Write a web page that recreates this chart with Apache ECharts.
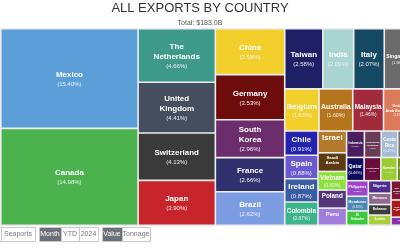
<!DOCTYPE html>
<html>
<head>
<meta charset="utf-8">
<script src="https://cdn.jsdelivr.net/npm/echarts@6/dist/echarts.min.js"></script>
<style>
  html, body { margin: 0; padding: 0; background: #fff; }
  #chart { width: 400px; height: 250px; overflow: hidden; }
</style>
</head>
<body>
<div id="chart"></div>
<script>
const titleText = 'ALL EXPORTS BY COUNTRY';
const subtitleText = 'Total: $183.0B';

const countries = [
  'Mexico', 'Canada', 'The Netherlands', 'United Kingdom', 'Switzerland', 'Japan',
  'China', 'Germany', 'South Korea', 'France', 'Brazil', 'Taiwan', 'India', 'Italy',
  'Singapore', 'Belgium', 'Australia', 'Malaysia', 'United Arab Emirates',
  'Chile', 'Spain', 'Colombia', 'Ireland', 'Israel', 'Vietnam', 'Saudi Arabia',
  'Poland', 'Peru', 'Indonesia', 'Dominican Republic', 'Costa Rica', 'Qatar',
  'Panama', 'Guatemala', 'Sweden', 'Argentina', 'Philippines', 'Honduras',
  'El Salvador', 'Nigeria', 'Morocco', 'Bahamas', 'Austria', 'New Zealand',
  'Finland', 'Trinidad and Tobago', 'Denmark', 'Pakistan'
];

// share of total exports, percent
const shares = [
  15.40, 14.98, 4.66, 4.41, 4.13, 3.90,
  3.58, 3.53, 2.96, 2.66, 2.62, 2.58, 2.09, 2.07,
  1.96, 1.63, 1.60, 1.46, 1.41,
  0.91, 0.88, 0.87, 0.87, 0.70, 0.60, 0.60,
  0.58, 0.55, 0.53, 0.50, 0.49, 0.46,
  0.46, 0.44, 0.43, 0.42, 0.38, 0.36,
  0.35, 0.32, 0.29, 0.27, 0.26, 0.25,
  0.23, 0.22, 0.21, 0.20
];

const colors = [
  '#5b9dd6', '#4cb24e', '#3d9a8b', '#454e5e', '#3a3a3a', '#c8242b',
  '#f2cf2b', '#6e0b0b', '#6b2d6b', '#30306e', '#7d9de3', '#1f1f66', '#a8d4d2', '#154862',
  '#6b6b6b', '#f2cf2b', '#b5751c', '#a12a3c', '#dc7a5c',
  '#2323b0', '#6a5ad0', '#3cb48c', '#3a5ca4', '#b27a2a', '#8ce23a', '#5c3b12',
  '#55357a', '#a07cdc', '#4b1f5e', '#6a3c5a', '#a5bcd4', '#0d0d5e',
  '#6f6f6f', '#6a0c3c', '#9acd32', '#6f8f22', '#9b45c8', '#4a87b6',
  '#3ec83e', '#4d2e8c', '#8e6a8e', '#3c3c3c', '#a6cf3a', '#7a1636',
  '#8a7e96', '#a31c1c', '#3cbd3c', '#8a30b0'
];

const buttonGroups = [
  ['Airports', 'Seaports'],
  ['Month', 'YTD', '2024'],
  ['Value', 'Tonnage']
];
const selectedButtons = ['Month', 'Value'];

const FONT = '"Liberation Sans", Arial, sans-serif';
const chart = echarts.init(document.getElementById('chart'), null, { renderer: 'canvas' });

const graphics = [];
(function buildButtons() {
  const y = 227, h = 14;
  const widths = { Airports: 34, Seaports: 34, Month: 22, YTD: 18, '2024': 19, Value: 20, Tonnage: 28 };
  let x = -33;
  buttonGroups.forEach(g => {
    g.forEach(b => {
      const w = widths[b];
      const sel = selectedButtons.indexOf(b) >= 0;
      graphics.push({
        type: 'rect', left: x, top: y, silent: true,
        shape: { width: w, height: h },
        style: { fill: sel ? '#6c7078' : '#fff', stroke: '#c8c8c8', lineWidth: 1 }
      });
      graphics.push({
        type: 'text', x: x + w / 2, y: y + h / 2, silent: true,
        style: { text: b, fill: sel ? '#fff' : '#777', fontSize: 7, fontFamily: FONT, textAlign: 'center', textVerticalAlign: 'middle' }
      });
      x += w;
    });
    x += 4;
  });
})();

function pctText(v) { return '(' + v.toFixed(2) + '%)'; }
function nameLines(n) { return n.replace(' ', '\n').split('\n'); }

const baseData = countries.map((c, i) => ({
  name: c,
  value: shares[i],
  itemStyle: { color: colors[i] }
}));

function buildOption(data) {
  return {
    animation: false,
    title: {
      text: titleText,
      subtext: subtitleText,
      left: 'center',
      top: 2,
      padding: 0,
      itemGap: 5,
      textStyle: { fontSize: 13, fontWeight: 'normal', color: '#333', fontFamily: FONT },
      subtextStyle: { fontSize: 7, color: '#555', fontFamily: FONT }
    },
    graphic: graphics,
    series: [{
      type: 'treemap',
      left: 0,
      top: 28,
      width: 414,
      height: 198,
      roam: false,
      nodeClick: false,
      breadcrumb: { show: false },
      sort: 'desc',
      itemStyle: { borderColor: '#eeeeee', borderWidth: 0.8, gapWidth: 0 },
      label: {
        show: true,
        position: 'inside',
        padding: 0,
        overflow: 'truncate',
        formatter: p => '{n|' + p.name.replace(' ', '\n') + '}\n{p|' + pctText(p.value) + '}',
        rich: {
          n: { fontSize: 8, fontWeight: 'bold', color: '#fff', fontFamily: FONT, lineHeight: 10, align: 'center' },
          p: { fontSize: 6, color: '#f0f0f0', fontFamily: FONT, lineHeight: 9, align: 'center' }
        }
      },
      emphasis: { disabled: true },
      data: data
    }]
  };
}

chart.setOption(buildOption(baseData));

// Second pass: fit and vertically centre each label inside the rectangle the library laid out.
const mctx = document.createElement('canvas').getContext('2d');
function unitWidth(s, bold) {
  mctx.font = (bold ? 'bold ' : '') + '100px ' + FONT;
  return mctx.measureText(s).width / 100;
}
const seriesData = chart.getModel().getSeriesByIndex(0).getData();
const rects = {};
for (let i = 0; i < seriesData.count(); i++) {
  const lay = seriesData.getItemLayout(i);
  if (lay) rects[seriesData.getName(i)] = lay;
}
const fitted = baseData.map(d => {
  const r = rects[d.name];
  if (!r) return d;
  const w = r.width, h = r.height;
  const lines = nameLines(d.name);
  const nw = Math.max.apply(null, lines.map(l => unitWidth(l, true)));
  const pw = unitWidth(pctText(d.value), false);
  let fN = Math.min(8, (w - 4) / nw);
  let fP = Math.min(fN * 0.75, (w - 4) / pw);
  let lhN = fN * 1.25, lhP = Math.max(fP * 1.5, fN * 1.05);
  let total = lines.length * lhN + lhP;
  if (total > h - 3) {
    const k = (h - 3) / total;
    fN *= k; fP *= k; lhN *= k; lhP *= k; total *= k;
  }
  const pt = Math.max(0, (h - total) / 2);
  return Object.assign({}, d, {
    label: {
      padding: [pt, 0, 0, 0],
      rich: {
        n: { fontSize: fN, fontWeight: 'bold', color: '#fff', fontFamily: FONT, lineHeight: lhN, align: 'center' },
        p: { fontSize: fP, color: '#f0f0f0', fontFamily: FONT, lineHeight: lhP, align: 'center' }
      }
    }
  });
});
chart.setOption(buildOption(fitted));
</script>
</body>
</html>
